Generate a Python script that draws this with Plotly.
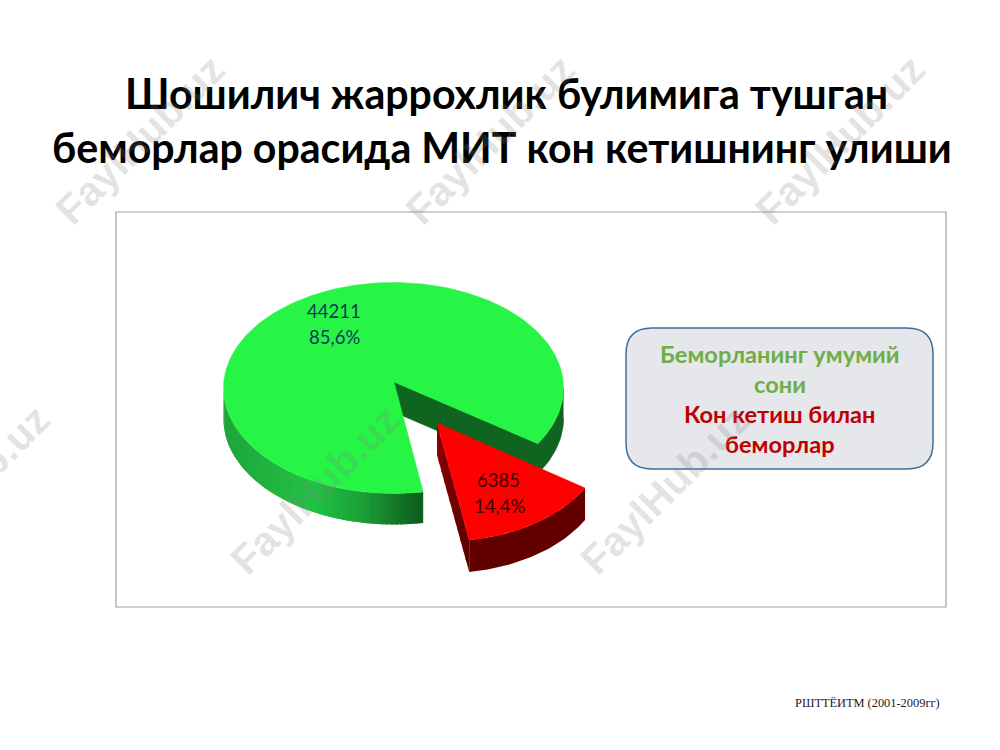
import math
import numpy as np
import plotly.graph_objects as go

# ---- data ----
CATEGORIES = ["Беморланинг умумий сони", "Кон кетиш билан беморлар"]
COUNTS = [44211, 6385]
PERCENTS = [85.6, 14.4]
COUNT_LABELS = ["44211", "6385"]
PERCENT_LABELS = ["85,6%", "14,4%"]
TITLE_LINES = ["Шошилич жаррохлик булимига тушган", "беморлар орасида МИТ кон кетишнинг улиши"]
LEGEND_LINES = ["Беморланинг умумий", "сони", "Кон кетиш билан", "беморлар"]
SOURCE = "РШТТЁИТМ (2001-2009гг)"
WATERMARK = "FaylHub.uz"

# ---- projection of the tilted pie (page pixels) ----
START = 30.0
PERSPECTIVE_TRIM = 1.9
DEPTH = 30
G = dict(cx=393.5, cy=388.0, rx=170.0, ry=105.5, ax=394.0, ay=382.0)
R = dict(cx=446.5, cy=435.0, rx=160.0, ry=106.0, ax=437.0, ay=423.0)

red_sweep = PERCENTS[1] / sum(PERCENTS) * 360
red_a, red_b = START, START + red_sweep
green_a, green_b = red_b - PERSPECTIVE_TRIM, START + 360 + PERSPECTIVE_TRIM


def rim(p, a, b, n=90):
    t = np.radians(np.linspace(a, b, n))
    return p["cx"] + p["rx"] * np.cos(t), p["cy"] + p["ry"] * np.sin(t)


def hex2rgb(h):
    return [int(h[i:i + 2], 16) for i in (1, 3, 5)]


def ramp(x, stops):
    xs = [s[0] for s in stops]
    cols = np.array([hex2rgb(s[1]) for s in stops])
    return "rgb(%d,%d,%d)" % tuple(np.interp(x, xs, cols[:, i]) for i in range(3))


fig = go.Figure()


def poly(xs, ys, color, edge=0.0):
    fig.add_trace(go.Scatter(x=list(xs), y=list(ys), mode="lines", fill="toself",
                             fillcolor=color, line=dict(color=color, width=edge),
                             hoverinfo="skip", showlegend=False))


GREEN_SIDE = [(224, "#1fa53b"), (317, "#22c244"), (367, "#1c9f36"), (423, "#0f5d1f")]
RED_WALL = [(437, "#8c0000"), (469, "#5c0000")]

# far-right outer side and interior wall of the green slice
xs, ys = rim(G, 360, green_b, 20)
poly(list(xs) + list(xs[::-1]), list(ys) + list(ys[::-1] + DEPTH), "#0f6420", 0.8)
ex, ey = rim(G, green_b, green_b, 1)
poly([G["ax"], ex[0], ex[0], G["ax"]], [G["ay"], ey[0], ey[0] + DEPTH, G["ay"] + DEPTH], "#0f6420", 0.8)

# curved front side of the green slice; each band overlaps the next so no seams show
edges = np.linspace(180, green_a, 61)
for a, b in zip(edges[:-1], edges[1:]):
    aa = max(a + 1.2, green_a) if a + 1.2 <= 180 else 180
    xs, ys = rim(G, aa, b, 5)
    poly(list(xs) + list(xs[::-1]), list(ys) + list(ys[::-1] + DEPTH + 1),
         ramp(rim(G, (a + b) / 2, (a + b) / 2, 1)[0][0], GREEN_SIDE))

# green top face
xs, ys = rim(G, green_a, green_b, 240)
poly([G["ax"]] + list(xs) + [G["ax"]], [G["ay"]] + list(ys) + [G["ay"]], "#26f545", 0.5)

# red slice: walls then top face
RD = DEPTH + 2
ex, ey = rim(R, red_b, red_b, 1)
edges = np.linspace(0, 1, 13)
for a, b in zip(edges[:-1], edges[1:]):
    a0 = max(a - 0.03, 0)
    x0, x1 = R["ax"] + a0 * (ex[0] - R["ax"]), R["ax"] + b * (ex[0] - R["ax"])
    y0, y1 = R["ay"] + a0 * (ey[0] - R["ay"]), R["ay"] + b * (ey[0] - R["ay"])
    poly([x0, x1, x1, x0], [y0, y1, y1 + RD, y0 + RD], ramp((x0 + x1) / 2, RED_WALL))
xs, ys = rim(R, red_a, red_b, 40)
poly(list(xs) + list(xs[::-1]), list(ys) + list(ys[::-1] + RD), "#620000")
poly([R["ax"]] + list(xs) + [R["ax"]], [R["ay"]] + list(ys) + [R["ay"]], "#fe0000", 0.5)

# rounded legend box path
bx0, by0, bx1, by1, rad = 626, 328, 933, 469, 26
box = (f"M{bx0 + rad},{by0} L{bx1 - rad},{by0} Q{bx1},{by0} {bx1},{by0 + rad} "
       f"L{bx1},{by1 - rad} Q{bx1},{by1} {bx1 - rad},{by1} L{bx0 + rad},{by1} "
       f"Q{bx0},{by1} {bx0},{by1 - rad} L{bx0},{by0 + rad} Q{bx0},{by0} {bx0 + rad},{by0} Z")

shapes = [
    dict(type="rect", xref="x", yref="y", x0=116, y0=212, x1=946, y1=607, layer="below",
         line=dict(color="#a0a0a0", width=1.2), fillcolor="#ffffff"),
    dict(type="path", xref="x", yref="y", path=box, layer="above",
         line=dict(color="#3d6f9e", width=1.5), fillcolor="#e5e7ea"),
]


def label(x, y, text, size, color, family="Lato", bold=False, anchor="center"):
    return dict(x=x, y=y, xref="x", yref="y", text=f"<b>{text}</b>" if bold else text,
                showarrow=False, xanchor=anchor, yanchor="middle",
                font=dict(family=family, size=size, color=color))


ann = [
    label(506, 93, TITLE_LINES[0], 41.1, "#000000", bold=True),
    label(501.5, 147, TITLE_LINES[1], 41.1, "#000000", bold=True),
    label(334, 311, COUNT_LABELS[0], 18.5, "#12395c"),
    label(334, 337, PERCENT_LABELS[0], 18.5, "#12395c"),
    label(498, 480, COUNT_LABELS[1], 18.5, "#3a0000"),
    label(499, 506, PERCENT_LABELS[1], 18.5, "#3a0000"),
    label(779.5, 354, LEGEND_LINES[0], 23.6, "#70ad47", bold=True),
    label(779.5, 384, LEGEND_LINES[1], 23.6, "#70ad47", bold=True),
    label(779.5, 414, LEGEND_LINES[2], 23.6, "#c00000", bold=True),
    label(779.5, 444, LEGEND_LINES[3], 23.6, "#c00000", bold=True),
    label(942, 703, SOURCE, 12.4, "#222222", family="Liberation Serif", anchor="right"),
]
for wx, wy in [(140, 140), (490, 140), (840, 140), (-35, 490), (315, 490), (665, 490)]:
    ann.append(dict(x=wx / 1000, y=1 - wy / 750, xref="paper", yref="paper",
                    text=f"<b>{WATERMARK}</b>", showarrow=False, textangle=-45,
                    xanchor="center", yanchor="middle",
                    font=dict(family="Liberation Sans", size=41, color="rgba(130,130,130,0.22)")))

fig.update_layout(
    width=1000, height=750, margin=dict(l=0, r=0, t=0, b=0),
    paper_bgcolor="#ffffff", plot_bgcolor="#ffffff", showlegend=False,
    xaxis=dict(range=[0, 1000], visible=False, fixedrange=True),
    yaxis=dict(range=[750, 0], visible=False, fixedrange=True),
    shapes=shapes, annotations=ann,
)
fig.write_html("out.html", post_script="document.body.style.margin='0';", config={"displayModeBar": False})
